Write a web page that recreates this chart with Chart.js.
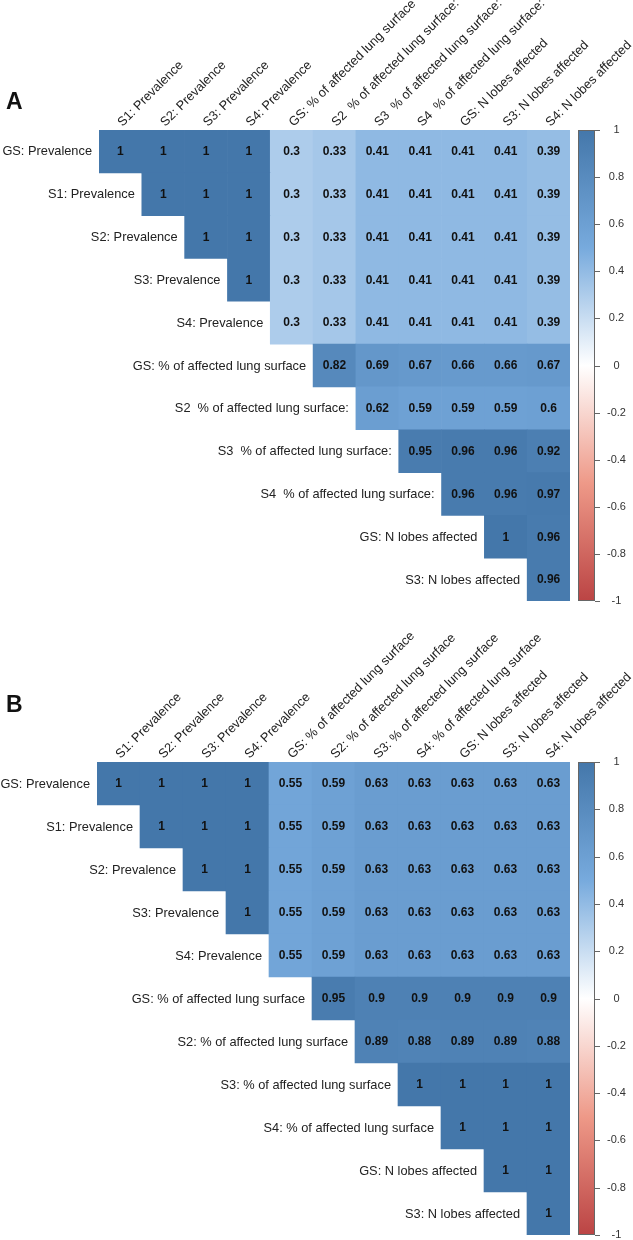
<!DOCTYPE html>
<html><head><meta charset="utf-8">
<script src="https://cdn.jsdelivr.net/npm/chart.js@4/dist/chart.umd.min.js"></script>
<style>
html,body{margin:0;padding:0;background:#fff;}
#wrap{position:relative;width:633px;height:1240px;overflow:hidden;}
.panel{position:absolute;left:0;width:633px;height:620px;}
.tag{position:absolute;left:6px;font:bold 23px/23px "Liberation Sans",Arial,sans-serif;color:#111;}
</style></head><body>
<div id="wrap">
<div class="panel" style="top:0"><canvas id="cA" width="633" height="620"></canvas></div>
<div class="panel" style="top:620px"><canvas id="cB" width="633" height="620"></canvas></div>
<div class="tag" style="top:90px">A</div>
<div class="tag" style="top:693px">B</div>
</div>
<script>
// ---------- Panel A ----------
const colsA = ['S1: Prevalence','S2: Prevalence','S3: Prevalence','S4: Prevalence','GS: % of affected lung surface','S2  % of affected lung surface:','S3  % of affected lung surface:','S4  % of affected lung surface:','GS: N lobes affected','S3: N lobes affected','S4: N lobes affected'];
const rowsA = ['GS: Prevalence','S1: Prevalence','S2: Prevalence','S3: Prevalence','S4: Prevalence','GS: % of affected lung surface','S2  % of affected lung surface:','S3  % of affected lung surface:','S4  % of affected lung surface:','GS: N lobes affected','S3: N lobes affected'];
const corrA = [
  [1, 1, 1, 1, 0.3, 0.33, 0.41, 0.41, 0.41, 0.41, 0.39],
  [1, 1, 1, 0.3, 0.33, 0.41, 0.41, 0.41, 0.41, 0.39],
  [1, 1, 0.3, 0.33, 0.41, 0.41, 0.41, 0.41, 0.39],
  [1, 0.3, 0.33, 0.41, 0.41, 0.41, 0.41, 0.39],
  [0.3, 0.33, 0.41, 0.41, 0.41, 0.41, 0.39],
  [0.82, 0.69, 0.67, 0.66, 0.66, 0.67],
  [0.62, 0.59, 0.59, 0.59, 0.6],
  [0.95, 0.96, 0.96, 0.92],
  [0.96, 0.96, 0.97],
  [1, 0.96],
  [0.96]
];
// ---------- Panel B ----------
const colsB = ['S1: Prevalence','S2: Prevalence','S3: Prevalence','S4: Prevalence','GS: % of affected lung surface','S2: % of affected lung surface','S3: % of affected lung surface','S4: % of affected lung surface','GS: N lobes affected','S3: N lobes affected','S4: N lobes affected'];
const rowsB = ['GS: Prevalence','S1: Prevalence','S2: Prevalence','S3: Prevalence','S4: Prevalence','GS: % of affected lung surface','S2: % of affected lung surface','S3: % of affected lung surface','S4: % of affected lung surface','GS: N lobes affected','S3: N lobes affected'];
const corrB = [
  [1, 1, 1, 1, 0.55, 0.59, 0.63, 0.63, 0.63, 0.63, 0.63],
  [1, 1, 1, 0.55, 0.59, 0.63, 0.63, 0.63, 0.63, 0.63],
  [1, 1, 0.55, 0.59, 0.63, 0.63, 0.63, 0.63, 0.63],
  [1, 0.55, 0.59, 0.63, 0.63, 0.63, 0.63, 0.63],
  [0.55, 0.59, 0.63, 0.63, 0.63, 0.63, 0.63],
  [0.95, 0.9, 0.9, 0.9, 0.9, 0.9],
  [0.89, 0.88, 0.89, 0.89, 0.88],
  [1, 1, 1, 1],
  [1, 1, 1],
  [1, 1],
  [1]
];
// colour ramp from -1 to 1
const palette = ['#BB4444', '#EE9988', '#FFFFFF', '#77AADD', '#4477AA'];
const scaleRange = [-1, 1];

const FONT = '"Liberation Sans", Arial, Helvetica, sans-serif';
function hex2rgb(h){return [parseInt(h.slice(1,3),16),parseInt(h.slice(3,5),16),parseInt(h.slice(5,7),16)];}
function corrColor(v){
  const t=(v-scaleRange[0])/(scaleRange[1]-scaleRange[0])*(palette.length-1);
  const i=Math.max(0,Math.min(Math.floor(t),palette.length-2));
  const f=t-i;
  const a=hex2rgb(palette[i]), b=hex2rgb(palette[i+1]);
  return 'rgb('+a.map((c,k)=>Math.round(c+(b[k]-c)*f)).join(',')+')';
}

function makePanel(id, rows, cols, corr, pad){
  const cells=[];
  corr.forEach((row,i)=>row.forEach((v,k)=>{
    cells.push({x: cols[i+k], y: [i-0.5, i+0.5], v: v});
  }));
  const decor = {
    id: 'corrDecor',
    afterDatasetsDraw(chart){
      const ctx=chart.ctx;
      const meta=chart.getDatasetMeta(0);
      const ds=chart.data.datasets[0];
      const xs=chart.scales.x, ys=chart.scales.y;
      const area=chart.chartArea;
      const cw=xs.getPixelForValue(1)-xs.getPixelForValue(0);
      ctx.save();
      // cell values
      ctx.font='bold 12px '+FONT;
      ctx.fillStyle='#111'; ctx.textAlign='center'; ctx.textBaseline='middle';
      meta.data.forEach((el,i)=>{const c=el.getCenterPoint(); ctx.fillText(String(ds.data[i].v), c.x, c.y+0.5);});
      // row labels (staircase)
      ctx.font='12.8px '+FONT; ctx.fillStyle='#222'; ctx.textAlign='right';
      rows.forEach((lab,i)=>ctx.fillText(lab, xs.getPixelForValue(i)-cw/2-7, ys.getPixelForValue(i)+0.5));
      // column labels, rotated 45 degrees
      ctx.textAlign='left'; ctx.textBaseline='alphabetic';
      cols.forEach((lab,j)=>{
        ctx.save();
        ctx.translate(xs.getPixelForValue(j)+2, area.top-3);
        ctx.rotate(-Math.PI/4);
        ctx.fillText(lab,0,0);
        ctx.restore();
      });
      // colour bar
      const yc=chart.scales.yc;
      const top=yc.getPixelForValue(scaleRange[1]), bot=yc.getPixelForValue(scaleRange[0]);
      const x0=area.right+8, w=17;
      const g=ctx.createLinearGradient(0,top,0,bot);
      palette.slice().reverse().forEach((c,k)=>g.addColorStop(k/(palette.length-1),c));
      ctx.fillStyle=g; ctx.fillRect(x0,top,w,bot-top);
      ctx.strokeStyle='#666'; ctx.lineWidth=1;
      ctx.strokeRect(x0+0.5,top+0.5,w-1,bot-top-1);
      yc.ticks.forEach(t=>{const y=Math.round(yc.getPixelForValue(t.value))+0.5;
        ctx.beginPath(); ctx.moveTo(x0+w,y); ctx.lineTo(x0+w+5,y); ctx.stroke();});
      ctx.restore();
    }
  };
  return new Chart(document.getElementById(id), {
    type: 'bar',
    data: { labels: cols, datasets: [{
      data: cells,
      backgroundColor: c => c.raw ? corrColor(c.raw.v) : '#fff',
      borderWidth: 0,
      categoryPercentage: 1, barPercentage: 1
    }]},
    options: {
      responsive: false, animation: false,
      events: [],
      layout: { padding: pad },
      plugins: { legend: {display:false}, tooltip: {enabled:false} },
      scales: {
        x: { type:'category', offset:true, display:false },
        y: { type:'linear', reverse:true, min:-0.5, max:rows.length-0.5, display:false },
        yc: { type:'linear', position:'right', min:scaleRange[0], max:scaleRange[1],
              grid:{drawOnChartArea:false, drawTicks:false}, border:{display:false},
              ticks:{stepSize:0.2, padding:37, crossAlign:'center', color:'#333', font:{family:FONT, size:11},
                     callback: v => String(Math.round(v*10)/10)},
              afterFit(s){ s.width=63; s.paddingTop=0; s.paddingBottom=0; } }
      }
    },
    plugins: [decor]
  });
}

makePanel('cA', rowsA, colsA, corrA, {left:99, top:130, right:0, bottom:19});
makePanel('cB', rowsB, colsB, corrB, {left:97, top:142, right:0, bottom:5});
</script>
</body></html>
